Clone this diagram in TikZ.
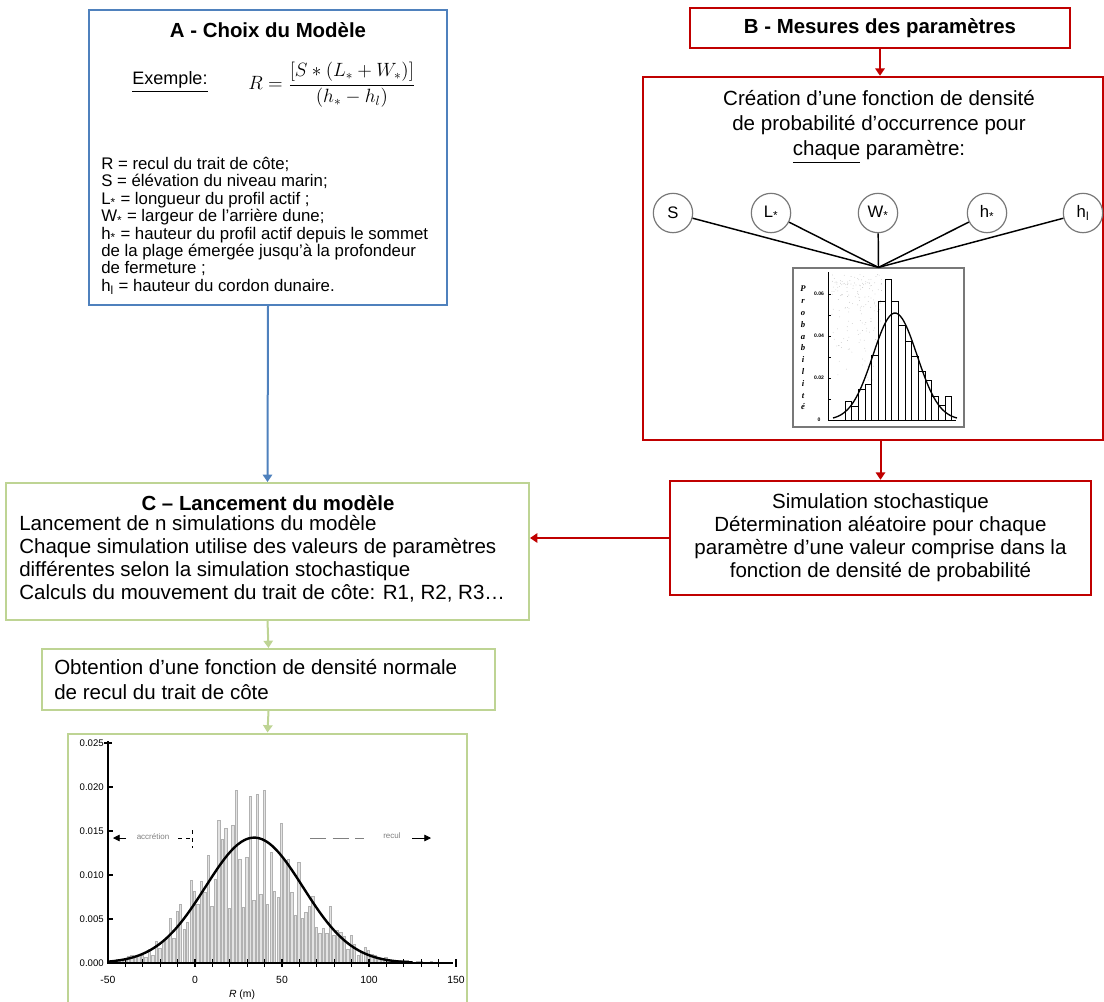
\documentclass[tikz,border=0pt]{standalone}
\usepackage{fontspec}
\setmainfont{Liberation Sans}
\newfontfamily\graphfont{Liberation Serif}
\usepackage{amsmath}
\usepackage{xcolor}
\usepackage{tikz}
\usetikzlibrary{arrows.meta}

\definecolor{bleuA}{RGB}{79,129,189}
\definecolor{rougeB}{RGB}{192,0,0}
\definecolor{vertC}{RGB}{190,212,148}
\definecolor{grisC}{RGB}{120,120,120}

\begin{document}
\begin{tikzpicture}[x=0.75pt,y=0.75pt,yscale=-1,xscale=1,
  boite/.style n args={2}{draw, inner sep=0pt, minimum width=#1, minimum height=#2},
  texte/.style={font=\fontsize{15.4}{17.25}\selectfont, inner sep=0pt},
  titre/.style={font=\bfseries\fontsize{15.3}{17.25}\selectfont, inner sep=0pt},
  param/.style={draw=grisC, line width=0.9pt, circle, minimum size=29.5pt, inner sep=0pt,
    font=\fontsize{12.5}{14}\selectfont},
  fleche/.style={-{Triangle[width=7pt,length=5.5pt]}, line width=1.5pt},
  petit/.style={font=\fontsize{6}{7}\selectfont, inner sep=0.5pt}]
\useasboundingbox (0,0) rectangle (1104,1001);

% A - Choix du modele
\node[boite={268.5pt}{221.25pt}, draw=bleuA, line width=1.5pt] (choix) at (268,157.5) {};
\node[titre] (titreA) at (268,30) {A - Choix du Modèle};
\node[texte, font=\fontsize{13.5}{16}\selectfont] (exemple) at (170,82) {\underline{Exemple:}};
\node[inner sep=0pt, font=\fontsize{14.5}{17}\selectfont] (formule) at (332,85)
  {$R=\dfrac{[S*(L_*+W_*)]}{(h_*-h_l)}$};
\node[inner sep=0pt, anchor=north west, align=left, font=\fontsize{12.6}{13.05}\selectfont]
  (defs) at (101,157) {R = recul du trait de côte;\\
  S = élévation du niveau marin;\\
  L\textsubscript{*} = longueur du profil actif ;\\
  W\textsubscript{*} = largeur de l’arrière dune;\\
  h\textsubscript{*} = hauteur du profil actif depuis le sommet\\
  de la plage émergée jusqu’à la profondeur\\
  de fermeture ;\\
  h\textsubscript{l} = hauteur du cordon dunaire.};

% B - Mesures des parametres
\node[boite={285pt}{30pt}, draw=rougeB, line width=1.8pt, titre] (titreB) at (880,28)
  {B - Mesures des paramètres};
\node[boite={345pt}{272.25pt}, draw=rougeB, line width=1.8pt] (densite) at (873,258.5) {};
\node[texte, align=center, font=\fontsize{15.4}{18.75}\selectfont] (creation) at (879,127)
  {Création d’une fonction de densité\\de probabilité d’occurrence pour\\\underline{chaque} paramètre:};

% parametres
\node[param] (pS) at (673,213) {S};
\node[param] (pL) at (771,213) {L\textsubscript{*}};
\node[param] (pW) at (878,213) {W\textsubscript{*}};
\node[param] (pH) at (987,213) {h\textsubscript{*}};
\node[param] (pHl) at (1083,213) {h\textsubscript{l}};

% histogramme des parametres
\node[boite={128.25pt}{119.25pt}, draw=grisC, line width=0.9pt] (histoB) at (878.5,347.5) {};
\foreach \p in {pS,pL,pW,pH,pHl}
  \draw[line width=1.1pt] (\p) -- (histoB.north);

\pgfmathsetseed{11}
\foreach \k in {1,...,170} {
  \pgfmathsetmacro\dx{832+50*rnd}
  \pgfmathsetmacro\dy{274+130*rnd*rnd+10*rnd}
  \fill[gray!55] (\dx,\dy) circle (0.3pt);
}
\draw[line width=0.6pt] (828,272) -- (828,420) -- (956,420);
\foreach \k in {1,...,6}
  \draw[line width=0.5pt] (828,{420-\k*21}) -- (831,{420-\k*21});
\foreach \v/\lab in {0/0, 2/0.02, 4/0.04, 6/0.06}
  \node[font=\bfseries\fontsize{3.8}{4}\selectfont, inner sep=0pt] at (819,{420-\v*21}) {\lab};
\node[font=\graphfont\bfseries\itshape\fontsize{6.5}{8.85}\selectfont, align=center, inner sep=0pt]
  (axeP) at (803,348) {P\\r\\o\\b\\a\\b\\i\\l\\i\\t\\é};
\foreach \t [count=\i from 0] in {401.7,406.7,389.3,384,355,301.7,279.3,301.7,325,341.7,356.7,371.7,380,396.7,405,396.7}
  \draw[line width=0.7pt] ({845+\i*6.67},420) rectangle ({845+(\i+1)*6.67},\t);
\draw[line width=1pt] plot[domain=833:957, samples=60, smooth]
  (\x, {420-107*exp(0-((\x-895)^2)/968)});

% simulation stochastique
\node[boite={315.75pt}{85.5pt}, draw=rougeB, line width=1.8pt, texte, align=center] (simul) at (880.5,538)
  {Simulation stochastique\\Détermination aléatoire pour chaque\\paramètre d’une valeur comprise dans la\\fonction de densité de probabilité};

% C - Lancement du modele
\node[boite={392.25pt}{102.75pt}, draw=vertC, line width=1.5pt] (lancement) at (267.5,551.5) {};
\node[titre] (titreC) at (268,503) {C – Lancement du modèle};
\node[texte, anchor=north west, align=left] (corpsC) at (19,515)
  {Lancement de n simulations du modèle\\
  Chaque simulation utilise des valeurs de paramètres\\
  différentes selon la simulation stochastique\\
  Calculs du mouvement du trait de côte: R1, R2, R3…};

% obtention
\node[boite={339.75pt}{45.75pt}, draw=vertC, line width=1.5pt] (obtention) at (268.5,679.5) {};
\node[texte, anchor=west, align=left, font=\fontsize{15.4}{18.75}\selectfont] (corpsO) at (54,680)
  {Obtention d’une fonction de densité normale\\de recul du trait de côte};

% histogramme du recul
\node[boite={299.25pt}{201.75pt}, draw=vertC, line width=1.5pt] (histoC) at (267.5,868) {};
\pgfmathsetseed{7}
\foreach \r in {-45,-43,...,135} {
  \pgfmathsetmacro\hb{125.4*exp(0-((\r-34)^2)/1568)*(0.45+1.15*rnd)+2*rnd}
  \filldraw[fill=gray!22, draw=gray!60, line width=0.4pt] ({108+(\r+50)*1.74},963) rectangle ++(2.4,-\hb);
}
\draw[line width=1.5pt] (108,741) -- (108,963) -- (453,963);
\draw[line width=1.2pt] (104,743) -- (112,743);
\foreach \v in {0,...,4}
  \draw[line width=1pt] (108,{963-\v*44}) -- (113,{963-\v*44});
\foreach \r in {-40,-30,...,150}
  \draw[line width=1pt] ({108+(\r+50)*1.74},959) -- ({108+(\r+50)*1.74},967);
\foreach \v/\lab in {0/0.000,1/0.005,2/0.010,3/0.015,4/0.020,5/0.025}
  \node[font=\fontsize{7.2}{8}\selectfont, anchor=east, inner sep=0pt] at (104,{963-\v*44}) {\lab};
\foreach \r in {-50,0,50,100,150}
  \node[font=\fontsize{7.8}{9}\selectfont, inner sep=0pt] at ({108+(\r+50)*1.74},980) {\r};
\node[font=\fontsize{7.8}{9}\selectfont, inner sep=0pt] (axeR) at (242,995) {\textit{R} (m)};
\draw[line width=1.8pt] plot[domain=-50:125, samples=90, smooth]
  ({108+(\x+50)*1.74}, {963-125.4*exp(0-((\x-34)^2)/1568)});

% accretion / recul
\draw[-{Triangle[width=5pt,length=5pt]}, line width=0.6pt] (126,838) -- (113,838);
\node[petit, text=gray] (accretion) at (153,837) {accrétion};
\draw[dashed, line width=0.6pt] (178,838) -- (192,838);
\draw[dashed, line width=0.6pt] (192,830) -- (192,848);
\draw[dash pattern=on 12pt off 5pt, line width=0.6pt, gray] (310,838) -- (364,838);
\node[petit, text=gray] (recul) at (392,836) {recul};
\draw[-{Triangle[width=5pt,length=5pt]}, line width=0.6pt] (412,838) -- (431,838);

% connecteurs
\draw[fleche, bleuA] (choix.south) -- (lancement.north);
\draw[fleche, rougeB] (titreB.south) -- (titreB.south |- densite.north);
\draw[fleche, rougeB] (simul.north |- densite.south) -- (simul.north);
\draw[fleche, rougeB] (simul.west) -- (simul.west -| lancement.east);
\draw[fleche, vertC] (lancement.south) -- (obtention.north);
\draw[fleche, vertC] (obtention.south) -- (histoC.north);

\end{tikzpicture}
\end{document}
